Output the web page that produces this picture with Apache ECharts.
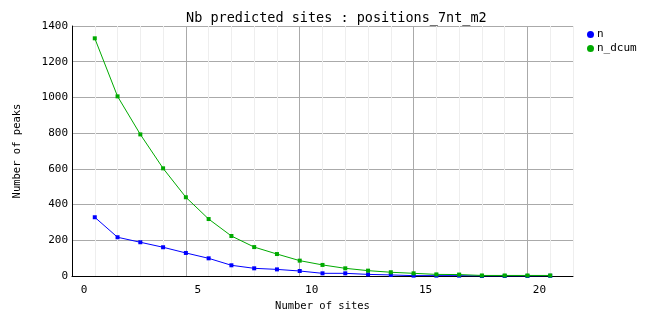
<!DOCTYPE html>
<html>
<head>
<meta charset="utf-8">
<script src="https://cdn.jsdelivr.net/npm/echarts@6/dist/echarts.min.js"></script>
<style>html,body{margin:0;padding:0;background:#fff}#c{width:662px;height:328px}</style>
</head>
<body>
<div id="c"></div>
<script>
// Number of sites (x positions)
var sites = [1,2,3,4,5,6,7,8,9,10,11,12,13,14,15,16,17,18,19,20,21];
// Number of peaks per site count
var nValues = [329,217,189,161,129,99,60,43,37,28,15,15,9,6,2,2,2,0,0,0,1];
// Decreasing cumulative
var nDcumValues = [1331,1006,793,603,441,319,224,162,123,86,62,43,30,21,15,9,8,3,3,3,3];
var xTickLabels = ['0','5','10','15','20'];
var yTicks = [0,200,400,600,800,1000,1200,1400];

function pairs(xs, ys){ return xs.map(function(x,i){ return [x, ys[i]]; }); }

var font = 'DejaVu Sans Mono';
var chart = echarts.init(document.getElementById('c'), null, {renderer:'canvas'});
chart.setOption({
  animation:false,
  backgroundColor:'#ffffff',
  title:{
    text:'Nb predicted sites : positions_7nt_m2',
    left:181, top:6,
    textStyle:{fontFamily:font, fontSize:13.5, fontWeight:'normal', color:'#000'}
  },
  legend:{
    orient:'vertical', left:582, top:24,
    itemWidth:7, itemHeight:7, itemGap:3,
    icon:'circle',
    textStyle:{fontFamily:font, fontSize:11, color:'#000', padding:[0,0,0,-2]},
    data:['n','n_dcum']
  },
  grid:{left:72, right:89, top:26, bottom:52},
  xAxis:{
    type:'value', min:0, max:22, interval:1,
    name:'Number of sites', nameLocation:'middle', nameGap:21,
    nameTextStyle:{fontFamily:font, fontSize:10.5, color:'#000'},
    axisLine:{show:true, lineStyle:{color:'#000', width:1}},
    axisTick:{show:false},
    axisLabel:{
      fontFamily:font, fontSize:11, color:'#000', margin:9,
      padding:[0,0,0,24],
      formatter:function(v){ var i = xTickLabels.indexOf(String(v)); return i>=0 ? xTickLabels[i] : ''; }
    },
    splitLine:{show:true, lineStyle:{color:['#aaaaaa','#eeeeee','#eeeeee','#eeeeee','#eeeeee'], width:1}}
  },
  yAxis:{
    type:'value', min:yTicks[0], max:yTicks[yTicks.length-1], interval:200,
    name:'Number of peaks', nameLocation:'middle', nameGap:49, nameRotate:90,
    nameTextStyle:{fontFamily:font, fontSize:10.5, color:'#000'},
    axisLine:{show:true, lineStyle:{color:'#000', width:1}},
    axisTick:{show:false},
    axisLabel:{fontFamily:font, fontSize:11, color:'#000', margin:4,
      formatter:function(v){ return String(v); }},
    splitLine:{show:true, lineStyle:{color:'#aaaaaa', width:1}}
  },
  series:[
    {
      name:'n', type:'line', data:pairs(sites, nValues),
      symbol:'rect', symbolSize:4, showSymbol:true,
      itemStyle:{color:'#0000ff'}, lineStyle:{color:'#0000ff', width:1}, z:2
    },
    {
      name:'n_dcum', type:'line', data:pairs(sites, nDcumValues),
      symbol:'rect', symbolSize:4, showSymbol:true,
      itemStyle:{color:'#00aa00'}, lineStyle:{color:'#00aa00', width:1}, z:3
    }
  ]
});
</script>
</body>
</html>
